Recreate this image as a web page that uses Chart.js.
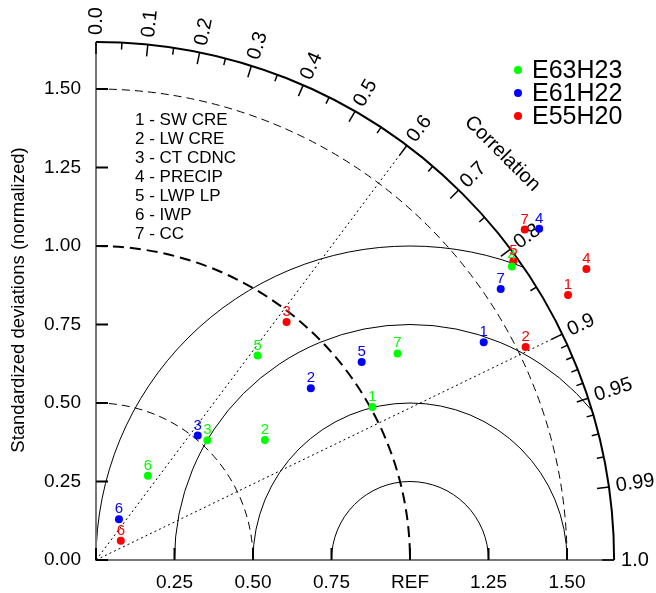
<!DOCTYPE html>
<html>
<head>
<meta charset="utf-8">
<script src="https://cdn.jsdelivr.net/npm/chart.js@4"></script>
<style>
  body { margin: 0; background: #fff; }
  canvas { display: block; }
</style>
</head>
<body>
<canvas id="taylor" width="656" height="593"></canvas>
<script>
// ---- data (normalized std dev, correlation) ----
const models = ['E63H23', 'E61H22', 'E55H20'];
const variables = ['SW CRE', 'LW CRE', 'CT CDNC', 'PRECIP', 'LWP LP', 'IWP', 'CC'];

const stdE63H23  = [1.006, 0.660, 0.521, 1.621, 0.830, 0.315, 1.164];
const corrE63H23 = [0.875, 0.815, 0.681, 0.817, 0.620, 0.525, 0.825];

const stdE61H22  = [1.416, 0.876, 0.512, 1.762, 1.055, 0.149, 1.551];
const corrE61H22 = [0.872, 0.781, 0.633, 0.801, 0.802, 0.490, 0.831];

const stdE55H20  = [1.724, 1.527, 0.971, 1.816, 1.635, 0.100, 1.724];
const corrE55H20 = [0.872, 0.896, 0.625, 0.860, 0.813, 0.790, 0.792];

const corrLabels = [0, 0.1, 0.2, 0.3, 0.4, 0.5, 0.6, 0.7, 0.8, 0.9, 0.95, 0.99, 1.0];
const corrMinor = [0.05, 0.15, 0.25, 0.35, 0.45, 0.55, 0.65, 0.75, 0.85, 0.91, 0.92, 0.93, 0.94, 0.96, 0.97, 0.98];
const corrLines = [0.6, 0.9];
const stdTicks = [0, 0.25, 0.5, 0.75, 1.0, 1.25, 1.5];
const xTickLabels = ['', '0.25', '0.50', '0.75', 'REF', '1.25', '1.50'];
const yTickLabels = ['0.00', '0.25', '0.50', '0.75', '1.00', '1.25', '1.50'];
const rmsRadii = [0.25, 0.5, 0.75, 1.0];
const stdCircles = [0.5, 1.0, 1.5];
const outerStd = 1.65;

const colors = ['#00ff00', '#0000ff', '#ff0000'];
const FONT = '"Liberation Sans", Arial, Helvetica, sans-serif';

const series = [
  [stdE63H23, corrE63H23],
  [stdE61H22, corrE61H22],
  [stdE55H20, corrE55H20]
];

function toXY(std, corr) {
  return std.map((s, i) => ({x: s * corr[i], y: s * Math.sqrt(1 - corr[i] * corr[i])}));
}

const taylorPlugin = {
  id: 'taylor',
  beforeDatasetsDraw(chart) {
    const {ctx, scales: {x, y}} = chart;
    const ox = x.getPixelForValue(0), oy = y.getPixelForValue(0);
    const unit = x.getPixelForValue(1) - ox;
    const R = outerStd * unit;
    ctx.save();

    // centered RMS arcs, clipped to the quadrant
    ctx.save();
    ctx.beginPath();
    ctx.moveTo(ox, oy);
    ctx.arc(ox, oy, R, -Math.PI / 2, 0);
    ctx.closePath();
    ctx.clip();
    ctx.strokeStyle = '#000';
    ctx.lineWidth = 1;
    rmsRadii.forEach(r => {
      ctx.beginPath();
      ctx.arc(x.getPixelForValue(1), oy, r * unit, Math.PI, 2 * Math.PI);
      ctx.stroke();
    });
    ctx.restore();

    // std dev circles
    stdCircles.forEach(r => {
      ctx.beginPath();
      ctx.arc(ox, oy, r * unit, -Math.PI / 2, 0);
      if (r === 1) { ctx.setLineDash([11, 6]); ctx.lineWidth = 2; }
      else { ctx.setLineDash([8, 5]); ctx.lineWidth = 1; }
      ctx.stroke();
    });

    // dotted correlation lines
    ctx.setLineDash([2, 3]);
    ctx.lineWidth = 1;
    corrLines.forEach(c => {
      const t = Math.acos(c);
      ctx.beginPath();
      ctx.moveTo(ox, oy);
      ctx.lineTo(ox + R * Math.cos(t), oy - R * Math.sin(t));
      ctx.stroke();
    });
    ctx.setLineDash([]);

    // axes
    ctx.strokeStyle = '#777';
    ctx.lineWidth = 2;
    ctx.beginPath();
    ctx.moveTo(ox, oy - R);
    ctx.lineTo(ox, oy);
    ctx.lineTo(ox + R, oy);
    ctx.stroke();

    // outer arc
    ctx.strokeStyle = '#000';
    ctx.lineWidth = 2;
    ctx.beginPath();
    ctx.arc(ox, oy, R, -Math.PI / 2, 0);
    ctx.stroke();

    // correlation ticks
    const tick = (c, len) => {
      const t = Math.acos(c);
      ctx.beginPath();
      ctx.moveTo(ox + R * Math.cos(t), oy - R * Math.sin(t));
      ctx.lineTo(ox + (R - len) * Math.cos(t), oy - (R - len) * Math.sin(t));
      ctx.stroke();
    };
    ctx.lineWidth = 1.5;
    corrLabels.forEach(c => tick(c, 12));
    corrMinor.forEach(c => tick(c, 7));

    // std ticks
    ctx.lineWidth = 2;
    stdTicks.forEach(s => {
      const px = x.getPixelForValue(s), py = y.getPixelForValue(s);
      ctx.beginPath(); ctx.moveTo(px, oy); ctx.lineTo(px, oy - 12); ctx.stroke();
      ctx.beginPath(); ctx.moveTo(ox, py); ctx.lineTo(ox + 12, py); ctx.stroke();
    });

    // tick labels
    ctx.fillStyle = '#000';
    ctx.font = '19px ' + FONT;
    ctx.textAlign = 'center';
    ctx.textBaseline = 'middle';
    stdTicks.forEach((s, i) => ctx.fillText(xTickLabels[i], x.getPixelForValue(s), oy + 23));
    ctx.textAlign = 'right';
    stdTicks.forEach((s, i) => ctx.fillText(yTickLabels[i], ox - 15, y.getPixelForValue(s)));

    ctx.font = '20px ' + FONT;
    ctx.textAlign = 'left';
    corrLabels.forEach(c => {
      const t = Math.acos(c);
      ctx.save();
      ctx.translate(ox + (R + 7) * Math.cos(t), oy - (R + 7) * Math.sin(t));
      ctx.rotate(-t);
      ctx.fillText(String(c === 0 ? '0.0' : c === 1 ? '1.0' : c), 0, 0);
      ctx.restore();
    });

    // axis titles
    ctx.font = '20px ' + FONT;
    ctx.textAlign = 'center';
    ctx.save();
    const rc = 1.83 * unit;
    ctx.translate(ox + rc * Math.cos(Math.PI / 4), oy - rc * Math.sin(Math.PI / 4));
    ctx.rotate(Math.PI / 4);
    ctx.fillText('Correlation', 0, 0);
    ctx.restore();

    ctx.font = '18.5px ' + FONT;
    ctx.save();
    ctx.translate(19, 300);
    ctx.rotate(-Math.PI / 2);
    ctx.fillText('Standardized deviations (normalized)', 0, 0);
    ctx.restore();

    // variable key
    ctx.font = '17px ' + FONT;
    ctx.textAlign = 'left';
    variables.forEach((v, i) => ctx.fillText((i + 1) + ' - ' + v, 135, 120 + i * 19));

    // model legend
    ctx.font = '25px ' + FONT;
    models.forEach((m, i) => {
      const ly = 70 + i * 23;
      ctx.fillStyle = colors[i];
      ctx.beginPath(); ctx.arc(518, ly, 4, 0, 2 * Math.PI); ctx.fill();
      ctx.fillStyle = '#000';
      ctx.fillText(m, 532, ly + 1);
    });

    ctx.restore();
  },
  afterDatasetsDraw(chart) {
    const {ctx} = chart;
    ctx.save();
    ctx.font = '15px ' + FONT;
    ctx.textAlign = 'center';
    ctx.textBaseline = 'alphabetic';
    chart.data.datasets.forEach((ds, di) => {
      chart.getDatasetMeta(di).data.forEach((pt, i) => {
        ctx.fillStyle = colors[di];
        ctx.fillText(String(i + 1), pt.x, pt.y - 6);
      });
    });
    ctx.restore();
  }
};

new Chart(document.getElementById('taylor'), {
  type: 'scatter',
  data: {
    datasets: models.map((m, i) => ({
      label: m,
      data: toXY(series[i][0], series[i][1]),
      backgroundColor: colors[i],
      borderWidth: 0,
      pointRadius: 4,
      clip: false
    }))
  },
  options: {
    responsive: false,
    animation: false,
    layout: {padding: {left: 96, bottom: 33, top: 10.5, right: 10.5}},
    scales: {
      x: {type: 'linear', min: 0, max: 1.75, display: false},
      y: {type: 'linear', min: 0, max: 1.75, display: false}
    },
    plugins: {legend: {display: false}, tooltip: {enabled: false}}
  },
  plugins: [taylorPlugin]
});
</script>
</body>
</html>
